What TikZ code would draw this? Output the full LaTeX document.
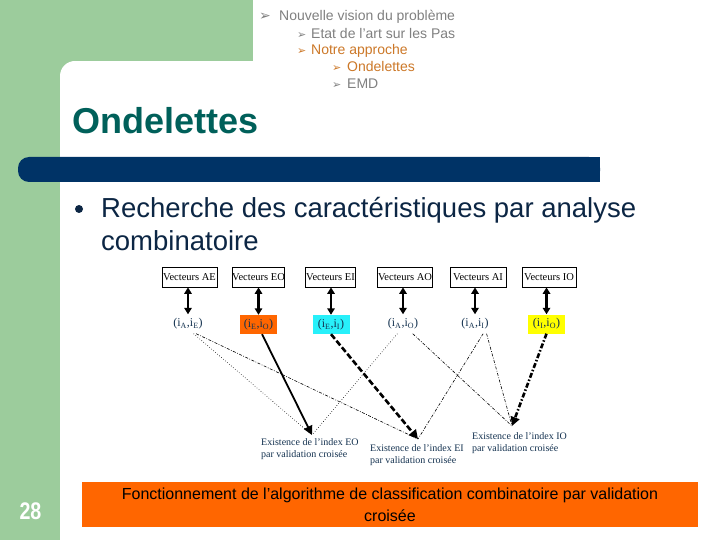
\documentclass[tikz,border=0pt]{standalone}
\usepackage{fontspec}
\setmainfont{Liberation Sans}
\newfontfamily\serifd{Liberation Serif}
\newfontfamily\dejavu{DejaVu Sans}
\usetikzlibrary{arrows.meta}
\definecolor{sgreen}{RGB}{156,204,156}
\definecolor{titlec}{RGB}{0,96,90}
\definecolor{barc}{RGB}{0,51,102}
\definecolor{navy}{RGB}{12,38,68}
\definecolor{grayt}{RGB}{128,128,128}
\definecolor{orat}{RGB}{204,120,40}
\definecolor{orbox}{RGB}{255,102,0}
\definecolor{cyanb}{RGB}{40,240,250}
\definecolor{yelb}{RGB}{255,255,0}
\definecolor{dtext}{RGB}{20,50,80}
\tikzset{
  txt/.style={inner sep=0pt, anchor=base west},
  toptxt/.style={txt, font=\fontsize{14}{16}\selectfont},
  arr/.style={txt, font=\dejavu\fontsize{11}{12}\selectfont},
  vbox/.style={draw=black, line width=0.8pt, fill=white, minimum width=54pt, minimum height=20pt, inner sep=0pt, font=\serifd\fontsize{10.5}{12}\selectfont},
  pairn/.style={minimum width=37pt, minimum height=19pt, inner sep=0pt, text=dtext, font=\serifd\fontsize{12}{13}\selectfont},
  dbl/.style={line width=2.4pt, {Triangle[length=6.5pt,width=7.5pt]}-{Triangle[length=6.5pt,width=7.5pt]}},
  thinline/.style={line width=0.6pt, black},
  lbl/.style={inner sep=0pt, anchor=north west, align=left, text=dtext, font=\serifd\fontsize{10}{12.5}\selectfont},
  tip/.style={-{Triangle[length=9pt,width=9pt]}}
}
\begin{document}
\begin{tikzpicture}[x=1pt,y=-1pt]
\useasboundingbox (0,0) rectangle (720,540);
\fill[white] (0,0) rectangle (720,540);
% background
\fill[sgreen] (0,0) rectangle (253,61);
\fill[sgreen] (0,0) rectangle (60,540);
\fill[sgreen] (60,61) rectangle (75,76);
\fill[white] (75,76) circle (15pt);
% blue bar
\fill[barc, rounded corners=11pt] (18,157) rectangle (600,182);
\fill[barc] (300,157) rectangle (600,182);
% top navigation
\node[arr, text=grayt, font=\dejavu\fontsize{14}{14}\selectfont] (n1a) at (259,21) {➢};
\node[toptxt, text=grayt] (n1) at (279,21) {Nouvelle vision du problème};
\node[arr, text=grayt] (n2a) at (297,39) {➢};
\node[toptxt, text=grayt] (n2) at (311,39) {Etat de l{\char"0027}art sur les Pas};
\node[arr, text=orat] (n3a) at (297,55) {➢};
\node[toptxt, text=orat] (n3) at (311,55) {Notre approche};
\node[arr, text=orat] (n4a) at (332,72) {➢};
\node[toptxt, text=orat] (n4) at (347,72) {Ondelettes};
\node[arr, text=grayt] (n5a) at (332,89) {➢};
\node[toptxt, text=grayt] (n5) at (347,89) {EMD};
% title
\node[txt, text=titlec, font=\fontsize{36}{40}\selectfont\bfseries] (title) at (72,134) {Ondelettes};
% bullet
\fill[navy] (79,209) circle (4pt);
\node[txt, text=navy, font=\fontsize{27.5}{32}\selectfont] (b1) at (101,218) {Recherche des caractéristiques par analyse};
\node[txt, text=navy, font=\fontsize{27.5}{32}\selectfont] (b2) at (101,250) {combinatoire};
% vector boxes
\node[vbox, minimum width=55pt] (vAE) at (189.5,277) {Vecteurs AE};
\node[vbox, minimum width=51pt] (vEO) at (258.5,277) {Vecteurs EO};
\node[vbox, minimum width=50pt] (vEI) at (330.5,277) {Vecteurs EI};
\node[vbox, minimum width=55pt] (vAO) at (405,277) {Vecteurs AO};
\node[vbox, minimum width=56pt] (vAI) at (478,277) {Vecteurs AI};
\node[vbox, minimum width=54pt] (vIO) at (549,277) {Vecteurs IO};
% pairs
\node[pairn] (pAE) at (188,324) {(i\textsubscript{A},i\textsubscript{E})};
\node[pairn, fill=orbox] (pEO) at (258.5,324.5) {(i\textsubscript{E},i\textsubscript{O})};
\node[pairn, fill=cyanb] (pEI) at (331,324.5) {(i\textsubscript{E},i\textsubscript{I})};
\node[pairn] (pAO) at (403,324) {(i\textsubscript{A},i\textsubscript{O})};
\node[pairn] (pAI) at (475,324) {(i\textsubscript{A},i\textsubscript{I})};
\node[pairn, fill=yelb] (pIO) at (546.5,324) {(i\textsubscript{I},i\textsubscript{O})};
% double arrows
\draw[dbl] (vAE.south -| pAE.north) -- (pAE.north);
\draw[dbl] (vEO.south -| pEO.north) -- (pEO.north);
\draw[dbl] (vEI.south -| pEI.north) -- (pEI.north);
\draw[dbl] (vAO.south -| pAO.north) -- (pAO.north);
\draw[dbl] (vAI.south -| pAI.north) -- (pAI.north);
\draw[dbl] (vIO.south -| pIO.north) -- (pIO.north);
% targets
\coordinate (tEO) at (312,435);
\coordinate (tEI) at (418,439);
\coordinate (tIO) at (512,426);
% thin connectors
\draw[thinline, dotted] (pAE.-60) -- (tEO);
\draw[thinline, dash pattern=on 3pt off 1.5pt on 0.8pt off 1.5pt] (pAE.-50) -- (tEI);
\draw[thinline, dotted] (pAO.-120) -- (tEO);
\draw[thinline, dash pattern=on 3pt off 1.5pt on 0.8pt off 1.5pt] (pAO.-45) -- (tIO);
\draw[thinline, dash pattern=on 3pt off 1.5pt on 0.8pt off 1.5pt] (pAI.-50) -- (tEI);
\draw[thinline, dash pattern=on 3pt off 1.5pt on 0.8pt off 1.5pt] (pAI.-40) -- (tIO);
% thick connectors
\draw[tip, line width=1.8pt] (pEO.-70) -- (tEO);
\draw[tip, line width=2.6pt, dash pattern=on 6pt off 2.5pt] (pEI.south) -- (tEI);
\draw[tip, line width=2.6pt, dash pattern=on 5pt off 2pt on 1.5pt off 2pt] (pIO.south) -- (tIO);
% labels
\node[lbl] (lEO) at (261,438) {Existence de l’index EO\\par validation croisée};
\node[lbl] (lEI) at (370,444) {Existence de l’index EI\\par validation croisée};
\node[lbl] (lIO) at (472,432) {Existence de l’index IO\\par validation croisée};
% bottom
\node[fill=orbox, minimum width=616pt, minimum height=45pt, inner sep=0pt, align=center, font=\fontsize{16}{22}\selectfont, text=black] (cap) at (390,504.5) {Fonctionnement de l’algorithme de classification combinatoire par validation\\croisée};
\node[text=white, inner sep=0pt, xscale=0.82, font=\fontsize{24}{24}\selectfont\bfseries] (num) at (30.5,511) {28};
\end{tikzpicture}
\end{document}
